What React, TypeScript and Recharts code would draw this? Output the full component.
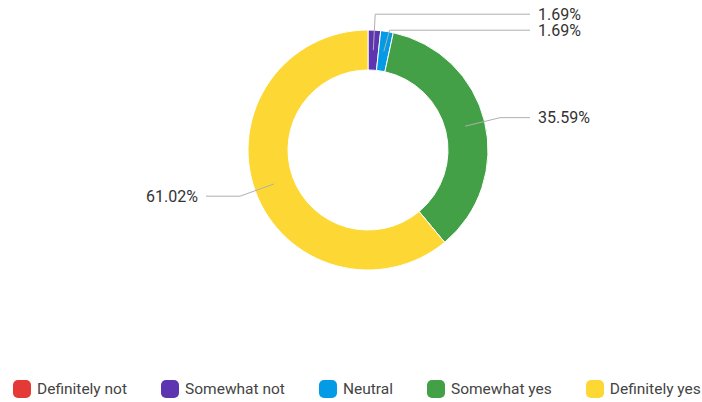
import { PieChart, Pie, Cell, Legend } from "recharts";

const categories = ["Definitely not", "Somewhat not", "Neutral", "Somewhat yes", "Definitely yes"];
const percents = [0, 1.69, 1.69, 35.59, 61.02];
const colors = ["#E53935", "#5E35B1", "#039BE5", "#43A047", "#FDD835"];

const data = categories.map((name, i) => ({ name, value: percents[i] }));

const CX = 368;
const CY = 150;
const INNER = 80;
const OUTER = 120;
const FONT = "Roboto, 'Noto Sans', sans-serif";

// work out label anchor / elbow points, pushing overlapping labels apart
function buildLabelLayout() {
  const total = percents.reduce((a, b) => a + b, 0);
  let acc = 0;
  const items = percents.map((v, i) => {
    const start = 90 - (acc / total) * 360;
    const end = start - (v / total) * 360;
    acc += v;
    const mid = ((start + end) / 2) * (Math.PI / 180);
    const rMid = (INNER + OUTER) / 2;
    const px = CX + rMid * Math.cos(mid);
    const py = CY - rMid * Math.sin(mid);
    const ex = CX + 136 * Math.cos(mid);
    const ey = CY - 136 * Math.sin(mid);
    return { i, v, px, py, ex, ey, right: Math.cos(mid) >= 0 };
  });
  const visible = items.filter((d) => d.v > 0);
  [true, false].forEach((side) => {
    const group = visible.filter((d) => d.right === side).sort((a, b) => a.ey - b.ey);
    for (let k = 1; k < group.length; k++) {
      if (group[k].ey < group[k - 1].ey + 16) group[k].ey = group[k - 1].ey + 16;
    }
  });
  return items;
}

const layout = buildLabelLayout();

const renderLabel = (props: any) => {
  const d = layout[props.index];
  if (!d || d.v <= 0) return null;
  const endX = d.right ? 530 : 206;
  const textX = d.right ? 538 : 198;
  return (
    <g key={`lbl-${props.index}`}>
      <polyline
        points={`${d.px},${d.py} ${d.ex},${d.ey} ${endX},${d.ey}`}
        fill="none"
        stroke="#b0b0b0"
        strokeWidth={1}
      />
      <text
        x={textX}
        y={d.ey}
        textAnchor={d.right ? "start" : "end"}
        dominantBaseline="central"
        fontSize={16}
        fontFamily={FONT}
        fill="#333"
      >
        {d.v.toFixed(2)}%
      </text>
    </g>
  );
};

const renderLegend = () => (
  <div
    style={{
      display: "flex",
      alignItems: "center",
      fontFamily: FONT,
      fontSize: 15.5,
      color: "#444",
      paddingLeft: 13,
    }}
  >
    {categories.map((c, i) => (
      <div key={c} style={{ display: "flex", alignItems: "center", marginRight: 34 }}>
        <span
          style={{
            display: "inline-block",
            width: 18,
            height: 18,
            borderRadius: 5,
            background: colors[i],
            marginRight: 6,
          }}
        />
        <span style={{ whiteSpace: "nowrap" }}>{c}</span>
      </div>
    ))}
  </div>
);

export default function App() {
  return (
    <div style={{ position: "fixed", left: 0, top: 0, width: 702, height: 402, background: "#fff" }}>
      <PieChart width={702} height={402} margin={{ top: 0, right: 0, bottom: 0, left: 0 }}>
        <Pie
          data={data}
          dataKey="value"
          nameKey="name"
          cx={CX}
          cy={CY}
          innerRadius={INNER}
          outerRadius={OUTER}
          startAngle={90}
          endAngle={-270}
          stroke="#fff"
          strokeWidth={1}
          label={renderLabel}
          labelLine={false}
          isAnimationActive={false}
        >
          {data.map((d, i) => (
            <Cell key={d.name} fill={colors[i]} />
          ))}
        </Pie>
        <Legend
          content={renderLegend}
          wrapperStyle={{ top: 380, left: 0, width: 702, height: 20 }}
        />
      </PieChart>
    </div>
  );
}
